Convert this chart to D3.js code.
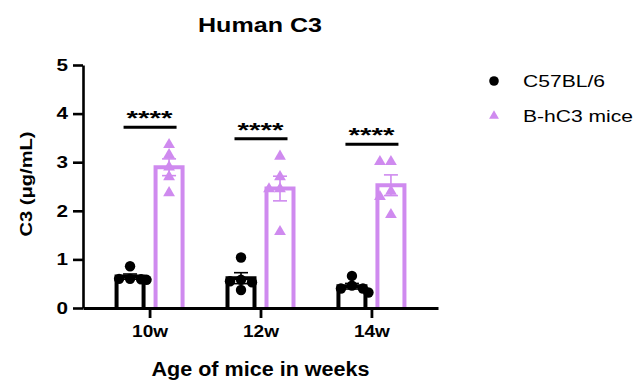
<!DOCTYPE html>
<html>
<head>
<meta charset="utf-8">
<script src="https://cdn.jsdelivr.net/npm/d3@7"></script>
<style>
  body { margin: 0; background: #fff; }
  svg text { font-family: "Liberation Sans", Arial, sans-serif; fill: #000; }
</style>
</head>
<body>
<div id="chart"></div>
<script>
// data
var ages = ["10w", "12w", "14w"];
var groups = ["C57BL/6", "B-hC3 mice"];
var c57Values = [
  [0.86, 0.60, 0.60, 0.59, 0.58],
  [1.04, 0.58, 0.55, 0.53, 0.37],
  [0.66, 0.46, 0.40, 0.40, 0.32]
];
var hc3Values = [
  [3.36, 3.15, 2.90, 2.70, 2.37],
  [3.12, 2.70, 2.45, 2.45, 1.57],
  [3.01, 3.01, 2.40, 2.29, 1.92]
];
var sigLabels = ["****", "****", "****"];
var yTicks = [0, 1, 2, 3, 4, 5];

var colors = { "C57BL/6": "#000000", "B-hC3 mice": "#cf8aef" };
var W = 641, H = 389;

var svg = d3.select("#chart").append("svg")
  .attr("width", W).attr("height", H);

var x = d3.scalePoint().domain(ages).range([83, 438]).padding(0.6);
var xs = d3.scalePoint().domain(groups).range([-19.5, 19.5]);
var y = d3.scaleLinear().domain([0, 5]).range([308, 65]);
var barW = 27;

// mean and SEM for each bar
var rows = [];
ages.forEach(function(a, i) {
  [[groups[0], c57Values[i]], [groups[1], hc3Values[i]]].forEach(function(g) {
    var vals = g[1];
    var m = d3.mean(vals);
    var sem = d3.deviation(vals) / Math.sqrt(vals.length);
    rows.push({ age: a, group: g[0], values: vals, mean: m, sem: sem });
  });
});

// bars (open at bottom, sitting on the axis)
svg.selectAll("path.bar")
  .data(rows)
  .enter().append("path")
    .attr("class", "bar")
    .attr("d", function(d) {
      var cx = x(d.age) + xs(d.group);
      var x0 = cx - barW / 2, x1 = cx + barW / 2;
      return "M" + x0 + "," + y(0) + "V" + y(d.mean) + "H" + x1 + "V" + y(0);
    })
    .attr("fill", "#fff")
    .attr("stroke", function(d) { return colors[d.group]; })
    .attr("stroke-width", 4)
    .attr("stroke-linejoin", "miter");

// error bars
var eb = svg.selectAll("g.err")
  .data(rows)
  .enter().append("g")
    .attr("class", "err")
    .attr("stroke", function(d) { return colors[d.group]; })
    .attr("stroke-width", 1.6);
eb.append("line")
  .attr("x1", function(d) { return x(d.age) + xs(d.group); })
  .attr("x2", function(d) { return x(d.age) + xs(d.group); })
  .attr("y1", function(d) { return y(d.mean - d.sem); })
  .attr("y2", function(d) { return y(d.mean + d.sem); });
[-1, 1].forEach(function(s) {
  eb.append("line")
    .attr("x1", function(d) { return x(d.age) + xs(d.group) - 7; })
    .attr("x2", function(d) { return x(d.age) + xs(d.group) + 7; })
    .attr("y1", function(d) { return y(d.mean + s * d.sem); })
    .attr("y2", function(d) { return y(d.mean + s * d.sem); });
});

// simple swarm so overlapping points spread sideways
function swarm(d) {
  var cx = x(d.age) + xs(d.group);
  var placed = [];
  var sorted = d.values.slice().sort(function(a, b) { return b - a; });
  sorted.forEach(function(v) {
    var py = y(v);
    var steps = [0, -1, 1, -2, 2, -3, 3];
    for (var k = 0; k < steps.length; k++) {
      var px = cx + steps[k] * 5.5;
      var ok = placed.every(function(p) {
        return Math.hypot(p.x - px, p.y - py) >= 9;
      });
      if (ok || k == steps.length - 1) { placed.push({ x: px, y: py, group: d.group }); break; }
    }
  });
  return placed;
}

var pts = [];
rows.forEach(function(r) { pts = pts.concat(swarm(r)); });

var circle = d3.symbol().type(d3.symbolCircle).size(85);
var tri = d3.symbol().type(d3.symbolTriangle).size(60);
svg.selectAll("path.pt")
  .data(pts)
  .enter().append("path")
    .attr("class", "pt")
    .attr("transform", function(d) { return "translate(" + d.x + "," + d.y + ")"; })
    .attr("d", function(d) { return d.group == groups[0] ? circle() : tri(); })
    .attr("fill", function(d) { return colors[d.group]; });

// significance lines and stars
ages.forEach(function(a, i) {
  var top = d3.max(hc3Values[i]) + 0.36;
  var ly = y(top);
  svg.append("line")
    .attr("x1", x(a) - 26).attr("x2", x(a) + 27)
    .attr("y1", ly).attr("y2", ly)
    .attr("stroke", "#000").attr("stroke-width", 3);
  svg.append("text")
    .attr("x", x(a)).attr("y", ly - 2)
    .attr("text-anchor", "middle")
    .attr("font-size", 20).attr("font-weight", "bold")
    .attr("textLength", 46).attr("lengthAdjust", "spacingAndGlyphs")
    .text(sigLabels[i]);
});

// axes
var yAxis = svg.append("g")
  .attr("transform", "translate(83,0)")
  .call(d3.axisLeft(y).tickValues(yTicks).tickFormat(d3.format("d"))
    .tickSize(10).tickSizeOuter(0).tickPadding(5));
yAxis.selectAll("path, line").attr("stroke", "#000").attr("stroke-width", 2.6);
yAxis.selectAll("text")
  .attr("font-size", 16.5).attr("font-weight", "bold")
  .attr("font-family", "Liberation Sans, Arial, sans-serif")
  .attr("textLength", 11.5).attr("lengthAdjust", "spacingAndGlyphs");

var xAxis = svg.append("g")
  .attr("transform", "translate(0," + y(0) + ")")
  .call(d3.axisBottom(x).tickSize(10).tickSizeOuter(0).tickPadding(7));
xAxis.selectAll("path, line").attr("stroke", "#000").attr("stroke-width", 2.8);
xAxis.selectAll("text")
  .attr("font-size", 16.5).attr("font-weight", "bold")
  .attr("font-family", "Liberation Sans, Arial, sans-serif")
  .attr("textLength", 36).attr("lengthAdjust", "spacingAndGlyphs");

// titles
svg.append("text")
  .attr("x", 260).attr("y", 32)
  .attr("text-anchor", "middle")
  .attr("font-size", 20.5).attr("font-weight", "bold")
  .attr("textLength", 124).attr("lengthAdjust", "spacingAndGlyphs")
  .text("Human C3");

svg.append("text")
  .attr("x", 260.5).attr("y", 376)
  .attr("text-anchor", "middle")
  .attr("font-size", 20).attr("font-weight", "bold")
  .attr("textLength", 218).attr("lengthAdjust", "spacingAndGlyphs")
  .text("Age of mice in weeks");

svg.append("text")
  .attr("transform", "translate(32,184) rotate(-90)")
  .attr("text-anchor", "middle")
  .attr("font-size", 16.5).attr("font-weight", "bold")
  .attr("textLength", 105).attr("lengthAdjust", "spacingAndGlyphs")
  .text("C3 (\u03bcg/mL)");

// legend
var legW = [82, 110];
var leg = svg.selectAll("g.leg")
  .data(groups)
  .enter().append("g")
    .attr("class", "leg")
    .attr("transform", function(d, i) { return "translate(494," + (81 + i * 35) + ")"; });
leg.append("path")
  .attr("d", function(d, i) {
    return i == 0 ? d3.symbol().type(d3.symbolCircle).size(72)()
                  : d3.symbol().type(d3.symbolTriangle).size(42)();
  })
  .attr("fill", function(d) { return colors[d]; });
leg.append("text")
  .attr("x", 29).attr("y", 6)
  .attr("font-size", 16.5)
  .attr("textLength", function(d, i) { return legW[i]; })
  .attr("lengthAdjust", "spacingAndGlyphs")
  .text(function(d) { return d; });
</script>
</body>
</html>
